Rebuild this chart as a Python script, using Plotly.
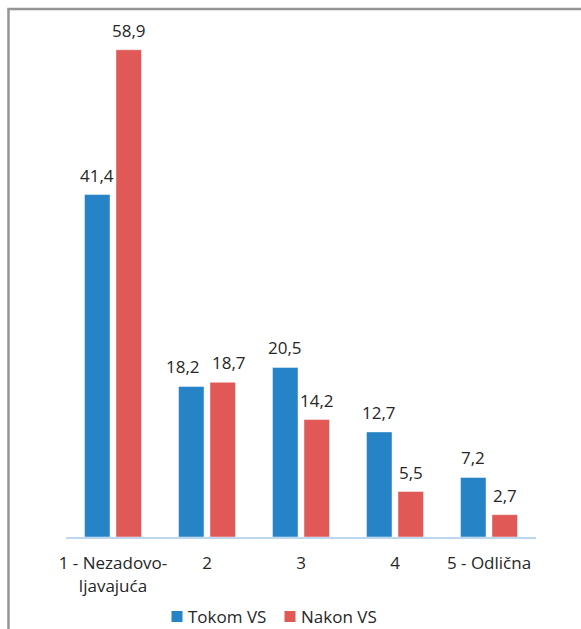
import plotly.graph_objects as go

categories = ["1 - Nezadovo-<br>ljavajuća", "2", "3", "4", "5 - Odlična"]
tokom_vs = [41.4, 18.2, 20.5, 12.7, 7.2]
nakon_vs = [58.9, 18.7, 14.2, 5.5, 2.7]
series_names = ["Tokom VS", "Nakon VS"]

blue = "#2683c6"
red = "#e05957"
font_family = "Open Sans, Noto Sans, sans-serif"
text_color = "#262626"
fs = 17

W, H = 581, 629
L, R, T, B = 66, 45, 20, 92
pw, ph = W - L - R, H - T - B
BARGAP, GROUPGAP = 0.33, 0.19

def px(x):
    return (x - L) / pw

def py(y):
    return (H - B - y) / ph

fig = go.Figure()
series = [(series_names[0], tokom_vs, blue), (series_names[1], nakon_vs, red)]
for name, vals, col in series:
    fig.add_trace(go.Bar(
        x=categories, y=vals, name=name,
        marker=dict(color=col, line=dict(color="rgba(255,255,255,0.45)", width=1)),
        showlegend=False,
    ))

# data labels (Excel-style, the overlapping pair nudged apart)
cat_px = pw / len(categories)
slot = cat_px * (1 - BARGAP) / 2
nudge = {(1, 0): -8, (1, 1): 6}
for si, (name, vals, col) in enumerate(series):
    off = (si - 0.5) * slot
    for ci, v in enumerate(vals):
        fig.add_annotation(x=ci, y=v, text=f"{v:.1f}".replace(".", ","), showarrow=False,
                           xanchor="center", yanchor="middle",
                           xshift=off + nudge.get((ci, si), 0), yshift=19.5,
                           font=dict(size=fs, color=text_color, family=font_family))

border = dict(color="#959595", width=2.5)
fig.add_shape(type="line", xref="paper", yref="paper", x0=px(8.5), x1=px(8.5), y0=py(9), y1=py(640), line=border)
fig.add_shape(type="line", xref="paper", yref="paper", x0=px(7.3), x1=px(590), y0=py(9), y1=py(9), line=border)

# legend (manual, to match the compact symbol/text spacing)
legend_items = [(series_names[0], blue, 171.5), (series_names[1], red, 284.5)]
for name, col, x0 in legend_items:
    fig.add_shape(type="rect", xref="paper", yref="paper",
                  x0=px(x0), x1=px(x0 + 11), y0=py(622), y1=py(611),
                  fillcolor=col, line=dict(width=0))
    fig.add_annotation(text=name, xref="paper", yref="paper", x=px(x0 + 14.5), y=py(616.5),
                       xanchor="left", yanchor="middle", showarrow=False,
                       font=dict(size=fs, color=text_color, family=font_family))

fig.update_layout(
    width=W, height=H,
    margin=dict(l=L, r=R, t=T, b=B),
    paper_bgcolor="white", plot_bgcolor="white",
    barmode="group", bargap=BARGAP, bargroupgap=GROUPGAP,
    font=dict(family=font_family, size=fs, color=text_color),
    showlegend=False,
    xaxis=dict(showline=True, linecolor="#bdd7ee", linewidth=2, ticks="", showgrid=False,
               tickfont=dict(size=fs, color=text_color), ticklabelstandoff=10),
    yaxis=dict(range=[0, 62.5], visible=False, showgrid=False),
)

fig.write_html("out.html", config={"displayModeBar": False},
               post_script="document.body.style.margin='0px';")
